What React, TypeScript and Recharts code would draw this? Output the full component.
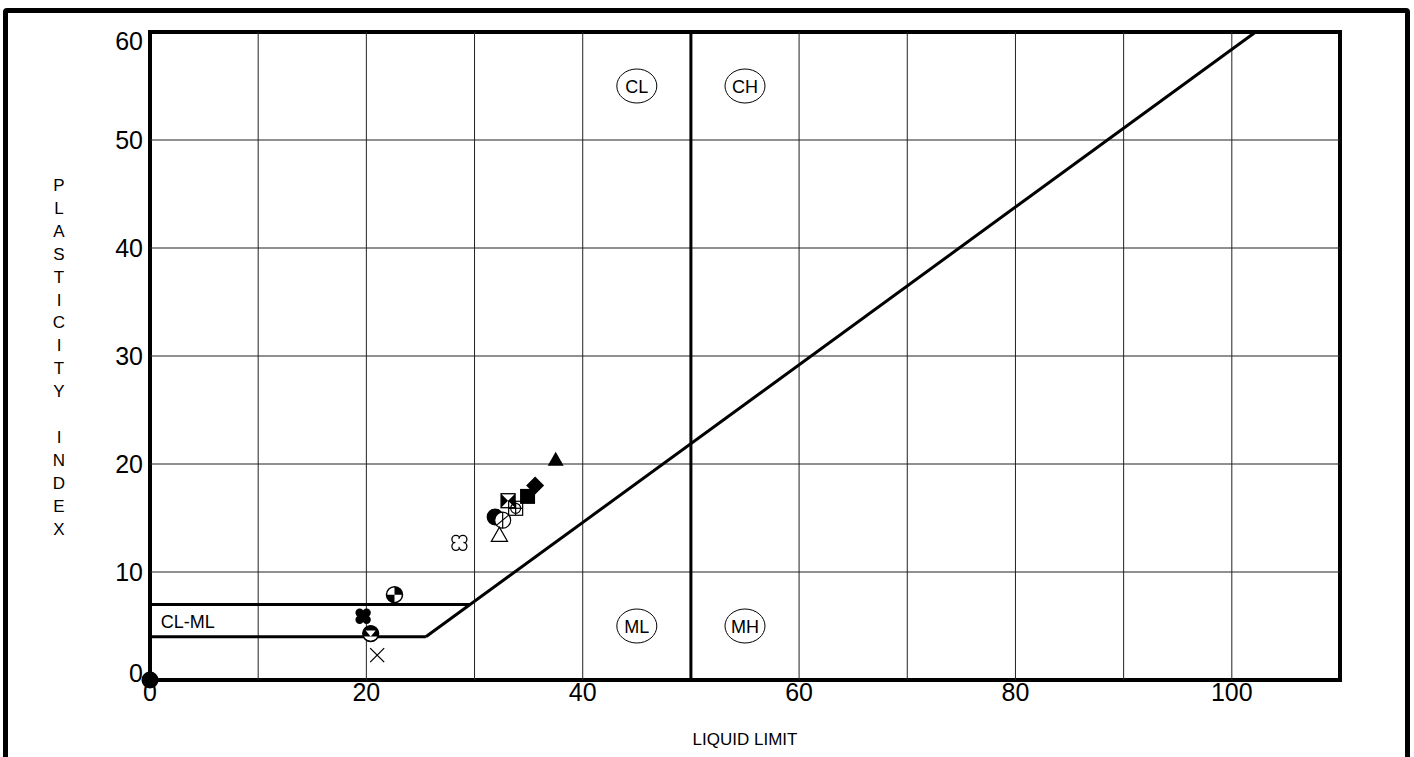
import React from 'react';
import {
  ScatterChart, Scatter, XAxis, YAxis, ReferenceLine, ReferenceArea, ReferenceDot,
} from 'recharts';

// ---- data ----
const liquidLimit = [0, 37.5, 35.6, 34.9, 33.1, 33.8, 31.9, 32.6, 32.3, 28.6, 22.6, 19.7, 20.4, 21.0];
const plasticityIndex = [0, 20.4, 18.0, 17.0, 16.6, 15.9, 15.1, 14.8, 13.4, 12.7, 7.9, 5.9, 4.3, 2.3];
const markers = [
  'filledCircle', 'filledTriangle', 'filledDiamond', 'filledSquare', 'hourglassSquare',
  'crossSquare', 'filledCircle', 'slashCircle', 'openTriangle', 'openQuatrefoil',
  'quarterCircle', 'filledQuatrefoil', 'hourglassCircle', 'cross',
];
const xTicks = [0, 20, 40, 60, 80, 100];
const yTicks = [0, 10, 20, 30, 40, 50, 60];
const gridX = [10, 20, 30, 40, 50, 60, 70, 80, 90, 100];
const gridY = [10, 20, 30, 40, 50];
const aLine = [{ x: 25.5, y: 4 }, { x: 102.2, y: 60 }];
const clmlLower = [{ x: 0, y: 4 }, { x: 25.5, y: 4 }];
const clmlUpper = [{ x: 0, y: 7 }, { x: 29.6, y: 7 }];
const llLine = [{ x: 50, y: 0 }, { x: 50, y: 60 }];
const zoneNames = ['CL', 'CH', 'ML', 'MH'];
const zoneLL = [45, 55, 45, 55];
const zonePI = [55, 55, 5, 5];
const yTitle = ['P', 'L', 'A', 'S', 'T', 'I', 'C', 'I', 'T', 'Y', '', 'I', 'N', 'D', 'E', 'X'];

const points = liquidLimit.map((ll, i) => ({ ll, pi: plasticityIndex[i], marker: markers[i] }));
const zones = zoneNames.map((n, i) => ({ name: n, x: zoneLL[i], y: zonePI[i] }));

const FONT = '"Liberation Sans", Arial, Helvetica, sans-serif';

const MarkerShape = (props: any) => {
  const { cx, cy, payload } = props;
  if (cx == null || cy == null) return null;
  const m = payload.marker;
  const r = 8;
  switch (m) {
    case 'filledCircle':
      return <circle cx={cx} cy={cy} r={r + 0.5} fill="#000" />;
    case 'filledTriangle':
      return <polygon points={`${cx},${cy - r} ${cx - r},${cy + 6} ${cx + r},${cy + 6}`} fill="#000" />;
    case 'openTriangle':
      return <polygon points={`${cx},${cy - r} ${cx - r},${cy + 6} ${cx + r},${cy + 6}`} fill="#fff" stroke="#000" strokeWidth={1.3} />;
    case 'filledDiamond':
      return <polygon points={`${cx},${cy - 9} ${cx + 9},${cy} ${cx},${cy + 9} ${cx - 9},${cy}`} fill="#000" />;
    case 'filledSquare':
      return <rect x={cx - 7.5} y={cy - 7.5} width={15} height={15} fill="#000" />;
    case 'hourglassSquare':
      return (
        <g>
          <rect x={cx - 7} y={cy - 7} width={14} height={14} fill="#fff" stroke="#000" strokeWidth={1.3} />
          <polygon points={`${cx - 7},${cy - 7} ${cx},${cy} ${cx - 7},${cy + 7}`} fill="#000" />
          <polygon points={`${cx + 7},${cy - 7} ${cx},${cy} ${cx + 7},${cy + 7}`} fill="#000" />
        </g>
      );
    case 'crossSquare':
      return (
        <g fill="none" stroke="#000" strokeWidth={1.2}>
          <rect x={cx - 7} y={cy - 7} width={14} height={14} />
          <circle cx={cx} cy={cy} r={5} />
          <line x1={cx - 7} y1={cy} x2={cx + 7} y2={cy} />
          <line x1={cx} y1={cy - 7} x2={cx} y2={cy + 7} />
        </g>
      );
    case 'slashCircle':
      return (
        <g fill="none" stroke="#000" strokeWidth={1.2}>
          <circle cx={cx} cy={cy} r={r} fill="#fff" />
          <line x1={cx - 6} y1={cy + 5} x2={cx + 6} y2={cy - 5} />
          <line x1={cx} y1={cy - 8} x2={cx} y2={cy + 8} />
        </g>
      );
    case 'openQuatrefoil':
      return (
        <g fill="#fff" stroke="#000" strokeWidth={1.3}>
          <circle cx={cx - 3.5} cy={cy - 3.5} r={4} />
          <circle cx={cx + 3.5} cy={cy - 3.5} r={4} />
          <circle cx={cx - 3.5} cy={cy + 3.5} r={4} />
          <circle cx={cx + 3.5} cy={cy + 3.5} r={4} />
          <rect x={cx - 4} y={cy - 4} width={8} height={8} stroke="none" />
        </g>
      );
    case 'filledQuatrefoil':
      return (
        <g fill="#000">
          <circle cx={cx - 3.5} cy={cy - 3.5} r={4.2} />
          <circle cx={cx + 3.5} cy={cy - 3.5} r={4.2} />
          <circle cx={cx - 3.5} cy={cy + 3.5} r={4.2} />
          <circle cx={cx + 3.5} cy={cy + 3.5} r={4.2} />
          <rect x={cx - 4} y={cy - 4} width={8} height={8} />
        </g>
      );
    case 'quarterCircle':
      return (
        <g>
          <circle cx={cx} cy={cy} r={r} fill="#fff" stroke="#000" strokeWidth={1.5} />
          <path d={`M${cx},${cy} L${cx},${cy - r} A${r},${r} 0 0 1 ${cx + r},${cy} Z`} fill="#000" />
          <path d={`M${cx},${cy} L${cx},${cy + r} A${r},${r} 0 0 1 ${cx - r},${cy} Z`} fill="#000" />
        </g>
      );
    case 'hourglassCircle':
      return (
        <g>
          <circle cx={cx} cy={cy} r={r} fill="#000" />
          <polygon points={`${cx - 5},${cy - 3} ${cx + 5},${cy - 3} ${cx},${cy + 3}`} fill="#fff" />
          <path d={`M${cx - 7},${cy + 3} A${r},${r} 0 0 0 ${cx + 7},${cy + 3} Z`} fill="#fff" />
          <circle cx={cx} cy={cy} r={r} fill="none" stroke="#000" strokeWidth={1.3} />
        </g>
      );
    case 'cross':
      return (
        <g stroke="#000" strokeWidth={1.3}>
          <line x1={cx - 7} y1={cy - 7} x2={cx + 7} y2={cy + 7} />
          <line x1={cx - 7} y1={cy + 7} x2={cx + 7} y2={cy - 7} />
        </g>
      );
    default:
      return <circle cx={cx} cy={cy} r={r} fill="#000" />;
  }
};

const ZoneShape = (name: string) => (props: any) => {
  const { cx, cy } = props;
  return (
    <g>
      <ellipse cx={cx} cy={cy} rx={20} ry={17} fill="#fff" stroke="#000" strokeWidth={1} />
      <text x={cx} y={cy + 6.5} textAnchor="middle" fontFamily={FONT} fontSize={18} fill="#000">{name}</text>
    </g>
  );
};

const ClmlShape = (props: any) => {
  const { cx, cy } = props;
  return (
    <text x={cx} y={cy + 6.5} textAnchor="start" fontFamily={FONT} fontSize={18} fill="#000">CL-ML</text>
  );
};

const XTick = (props: any) => {
  const { x, y, payload } = props;
  return (
    <text x={x} y={y + 13} textAnchor="middle" fontFamily={FONT} fontSize={25} fill="#000">
      {payload.value}
    </text>
  );
};

const YTick = (props: any) => {
  const { y, payload } = props;
  const v = payload.value;
  const dy = v === 60 ? 9 : v === 0 ? -7 : 0;
  return (
    <text x={143} y={y + dy + 9} textAnchor="end" fontFamily={FONT} fontSize={25} fill="#000">
      {v}
    </text>
  );
};

const YTitle = () => (
  <text x={59} fontFamily={FONT} fontSize={17} fill="#000" textAnchor="middle">
    {yTitle.map((c, i) => (
      <tspan key={i} x={59} y={191 + i * 22.9}>{c}</tspan>
    ))}
  </text>
);

export default function App() {
  return (
    <div style={{ position: 'absolute', left: 0, top: 0, width: 1414, height: 757, overflow: 'hidden', background: '#fff' }}>
      <div
        style={{
          position: 'absolute', left: 3, top: 8, width: 1407, height: 800,
          boxSizing: 'border-box', border: '5px solid #000', borderRadius: 4,
        }}
      />
      <div style={{ position: 'absolute', left: 0, top: 0 }}>
        <ScatterChart width={1414} height={757} margin={{ top: 32, right: 74, bottom: 0, left: 0 }}>
          <XAxis
            type="number" dataKey="ll" domain={[0, 110]} ticks={xTicks} interval={0}
            tickLine={false} axisLine={false} height={77} tick={<XTick />}
            label={{ value: 'LIQUID LIMIT', position: 'insideBottom', offset: 12, fontSize: 17, fontFamily: FONT, fill: '#000' }}
          />
          <YAxis
            type="number" dataKey="pi" domain={[0, 60]} ticks={yTicks} interval={0}
            tickLine={false} axisLine={false} width={150} tick={<YTick />}
            label={{ content: () => <YTitle /> }}
          />
          {gridX.map((v) => (
            <ReferenceLine key={'gx' + v} x={v} stroke="#222" strokeWidth={1} />
          ))}
          {gridY.map((v) => (
            <ReferenceLine key={'gy' + v} y={v} stroke="#222" strokeWidth={1} />
          ))}
          <ReferenceLine segment={llLine} stroke="#000" strokeWidth={3} />
          <ReferenceLine segment={clmlUpper} stroke="#000" strokeWidth={3} />
          <ReferenceLine segment={clmlLower} stroke="#000" strokeWidth={3} />
          <ReferenceLine segment={aLine} stroke="#000" strokeWidth={3} />
          <ReferenceArea x1={0} x2={110} y1={0} y2={60} fill="none" fillOpacity={0} stroke="#000" strokeWidth={4} ifOverflow="visible" />
          {zones.map((z) => (
            <ReferenceDot key={z.name} x={z.x} y={z.y} r={19} shape={ZoneShape(z.name)} />
          ))}
          <ReferenceDot x={1} y={5.4} r={1} shape={ClmlShape} />
          <Scatter data={points} shape={<MarkerShape />} isAnimationActive={false} />
        </ScatterChart>
      </div>
    </div>
  );
}
